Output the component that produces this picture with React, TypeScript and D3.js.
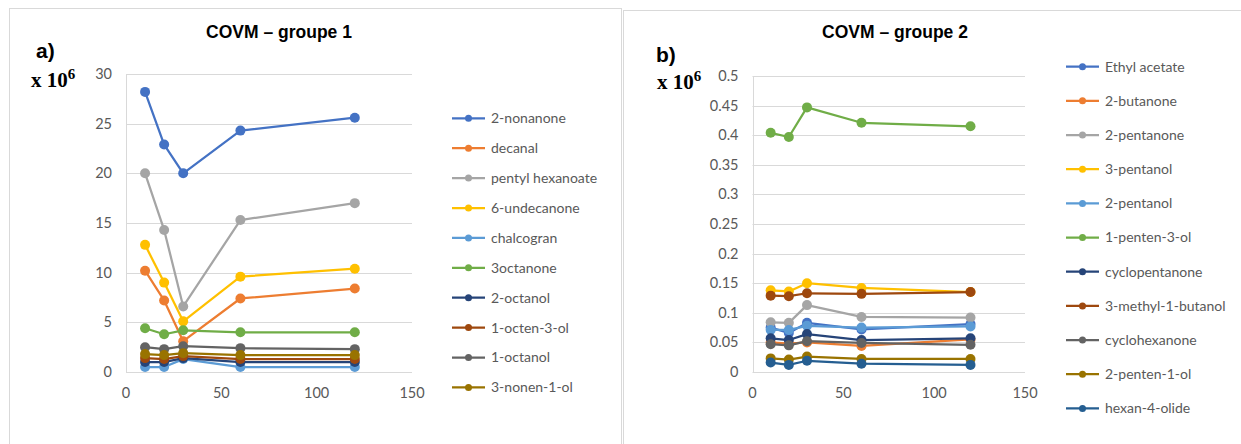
import React from "react";
import * as d3 from "d3";

// Sampling times shared by every series
const times = [10, 20, 30, 60, 120];

// Group 1 compounds (values × 10^6)
const names1 = [
  "2-nonanone",
  "decanal",
  "pentyl hexanoate",
  "6-undecanone",
  "chalcogran",
  "3octanone",
  "2-octanol",
  "1-octen-3-ol",
  "1-octanol",
  "3-nonen-1-ol",
];
const nonanone = [28.2, 22.9, 20.0, 24.3, 25.6];
const decanal = [10.2, 7.2, 3.1, 7.4, 8.4];
const pentylHexanoate = [20.0, 14.3, 6.6, 15.3, 17.0];
const undecanone = [12.8, 9.0, 5.1, 9.6, 10.4];
const chalcogran = [0.5, 0.5, 1.3, 0.5, 0.5];
const octanone3 = [4.4, 3.8, 4.2, 4.0, 4.0];
const octanol2 = [1.0, 1.0, 1.4, 1.0, 1.0];
const octenol = [1.4, 1.3, 1.6, 1.3, 1.3];
const octanol1 = [2.5, 2.3, 2.6, 2.4, 2.3];
const nonenol = [1.8, 1.7, 1.9, 1.7, 1.7];
const values1 = [
  nonanone, decanal, pentylHexanoate, undecanone, chalcogran,
  octanone3, octanol2, octenol, octanol1, nonenol,
];
const yTicks1 = [0, 5, 10, 15, 20, 25, 30];

// Group 2 compounds (values × 10^6)
const names2 = [
  "Ethyl acetate",
  "2-butanone",
  "2-pentanone",
  "3-pentanol",
  "2-pentanol",
  "1-penten-3-ol",
  "cyclopentanone",
  "3-methyl-1-butanol",
  "cyclohexanone",
  "2-penten-1-ol",
  "hexan-4-olide",
];
const ethylAcetate = [0.075, 0.066, 0.083, 0.072, 0.081];
const butanone = [0.05, 0.048, 0.05, 0.044, 0.055];
const pentanone = [0.084, 0.083, 0.113, 0.093, 0.092];
const pentanol3 = [0.138, 0.136, 0.15, 0.142, 0.135];
const pentanol2 = [0.071, 0.071, 0.078, 0.075, 0.077];
const pentenol3 = [0.404, 0.397, 0.447, 0.421, 0.415];
const cyclopentanone = [0.057, 0.054, 0.064, 0.054, 0.057];
const methylButanol = [0.129, 0.128, 0.133, 0.132, 0.135];
const cyclohexanone = [0.047, 0.045, 0.052, 0.049, 0.046];
const pentenol1 = [0.023, 0.021, 0.026, 0.022, 0.022];
const hexanolide = [0.016, 0.012, 0.019, 0.014, 0.012];
const values2 = [
  ethylAcetate, butanone, pentanone, pentanol3, pentanol2, pentenol3,
  cyclopentanone, methylButanol, cyclohexanone, pentenol1, hexanolide,
];
const yTicks2 = [0, 0.05, 0.1, 0.15, 0.2, 0.25, 0.3, 0.35, 0.4, 0.45, 0.5];

const xTicks = [0, 50, 100, 150];

const palette = [
  "#4472C4", "#ED7D31", "#A5A5A5", "#FFC000", "#5B9BD5", "#70AD47",
  "#264478", "#9E480E", "#636363", "#997300", "#255E91",
];

const labelFont = "Lato, 'Open Sans', sans-serif";
const tickColor = "#595959";
const gridColor = "#d9d9d9";

type PanelProps = {
  frame: { x: number; y: number; w: number; h: number };
  title: string;
  titleX: number;
  tag: string;
  tagX: number;
  tagY: number;
  unitX: number;
  unitY: number;
  plot: { left: number; right: number; top: number; bottom: number };
  yMax: number;
  yTicks: number[];
  yFormat: (v: number) => string;
  names: string[];
  values: number[][];
  legend: { x: number; y: number; step: number };
};

function Panel(p: PanelProps) {
  const x = d3.scaleLinear().domain([0, 150]).range([p.plot.left, p.plot.right]);
  const y = d3.scaleLinear().domain([0, p.yMax]).range([p.plot.bottom, p.plot.top]);
  const line = d3
    .line<[number, number]>()
    .x((d) => x(d[0]))
    .y((d) => y(d[1]));

  return (
    <g>
      <rect
        x={p.frame.x + 0.5}
        y={p.frame.y + 0.5}
        width={p.frame.w}
        height={p.frame.h}
        fill="#fff"
        stroke={gridColor}
      />
      <text
        x={p.titleX}
        y={38}
        textAnchor="middle"
        fontFamily="Arial, 'Liberation Sans', sans-serif"
        fontWeight="bold"
        fontSize={17.5}
        fill="#000"
      >
        {p.title}
      </text>
      <text
        x={p.tagX}
        y={p.tagY}
        fontFamily="Arial, 'Liberation Sans', sans-serif"
        fontWeight="bold"
        fontSize={21}
        fill="#000"
      >
        {p.tag}
      </text>
      <text
        x={p.unitX}
        y={p.unitY}
        fontFamily="'Liberation Serif', 'Times New Roman', serif"
        fontWeight="bold"
        fontSize={21}
        fill="#000"
      >
        x 10
        <tspan dy={-8} fontSize={15}>
          6
        </tspan>
      </text>

      {/* horizontal gridlines */}
      {p.yTicks.map((t) => (
        <line
          key={"g" + t}
          x1={p.plot.left}
          x2={p.plot.right}
          y1={Math.round(y(t)) + 0.5}
          y2={Math.round(y(t)) + 0.5}
          stroke={gridColor}
          strokeWidth={1}
        />
      ))}
      {/* vertical axis line */}
      <line
        x1={Math.round(p.plot.left) + 0.5}
        x2={Math.round(p.plot.left) + 0.5}
        y1={p.plot.top}
        y2={p.plot.bottom}
        stroke={gridColor}
      />
      {/* y tick labels */}
      {p.yTicks.map((t) => (
        <text
          key={"y" + t}
          x={p.plot.left - 14}
          y={y(t)}
          dy="0.35em"
          textAnchor="end"
          fontFamily={labelFont}
          fontSize={14.5}
          fill={tickColor}
        >
          {p.yFormat(t)}
        </text>
      ))}
      {/* x tick labels */}
      {xTicks.map((t) => (
        <text
          key={"x" + t}
          x={x(t)}
          y={p.plot.bottom + 21}
          dy="0.35em"
          textAnchor="middle"
          fontFamily={labelFont}
          fontSize={14.5}
          fill={tickColor}
        >
          {t}
        </text>
      ))}

      {/* series */}
      {p.values.map((vals, i) => {
        const pts = times.map((t, j) => [t, vals[j]] as [number, number]);
        return (
          <g key={"s" + i}>
            <path
              d={line(pts) ?? ""}
              fill="none"
              stroke={palette[i]}
              strokeWidth={2.25}
              strokeLinejoin="round"
            />
            {pts.map((d, j) => (
              <circle key={j} cx={x(d[0])} cy={y(d[1])} r={5} fill={palette[i]} />
            ))}
          </g>
        );
      })}

      {/* legend */}
      {p.names.map((n, i) => {
        const ly = p.legend.y + i * p.legend.step;
        return (
          <g key={"l" + i}>
            <line
              x1={p.legend.x}
              x2={p.legend.x + 33}
              y1={ly}
              y2={ly}
              stroke={palette[i]}
              strokeWidth={2.25}
            />
            <circle cx={p.legend.x + 16.5} cy={ly} r={3.5} fill={palette[i]} />
            <text
              x={p.legend.x + 39}
              y={ly}
              dy="0.35em"
              fontFamily={labelFont}
              fontSize={14}
              fill={tickColor}
            >
              {n}
            </text>
          </g>
        );
      })}
    </g>
  );
}

export default function App() {
  return (
    <svg
      width={1241}
      height={444}
      style={{ position: "absolute", left: 0, top: 0, background: "#fff" }}
    >
      <Panel
        frame={{ x: 9, y: 8, w: 612, h: 450 }}
        title="COVM – groupe 1"
        titleX={279}
        tag="a)"
        tagX={36}
        tagY={58}
        unitX={31}
        unitY={87}
        plot={{ left: 126, right: 412, top: 74, bottom: 372 }}
        yMax={30}
        yTicks={yTicks1}
        yFormat={(v) => String(v)}
        names={names1}
        values={values1}
        legend={{ x: 452, y: 118.3, step: 29.9 }}
      />
      <Panel
        frame={{ x: 623, y: 10, w: 630, h: 450 }}
        title="COVM – groupe 2"
        titleX={895}
        tag="b)"
        tagX={656}
        tagY={62}
        unitX={657}
        unitY={89}
        plot={{ left: 752.5, right: 1025, top: 76, bottom: 372 }}
        yMax={0.5}
        yTicks={yTicks2}
        yFormat={(v) => String(+v.toFixed(2))}
        names={names2}
        values={values2}
        legend={{ x: 1066, y: 66.7, step: 34.17 }}
      />
    </svg>
  );
}
